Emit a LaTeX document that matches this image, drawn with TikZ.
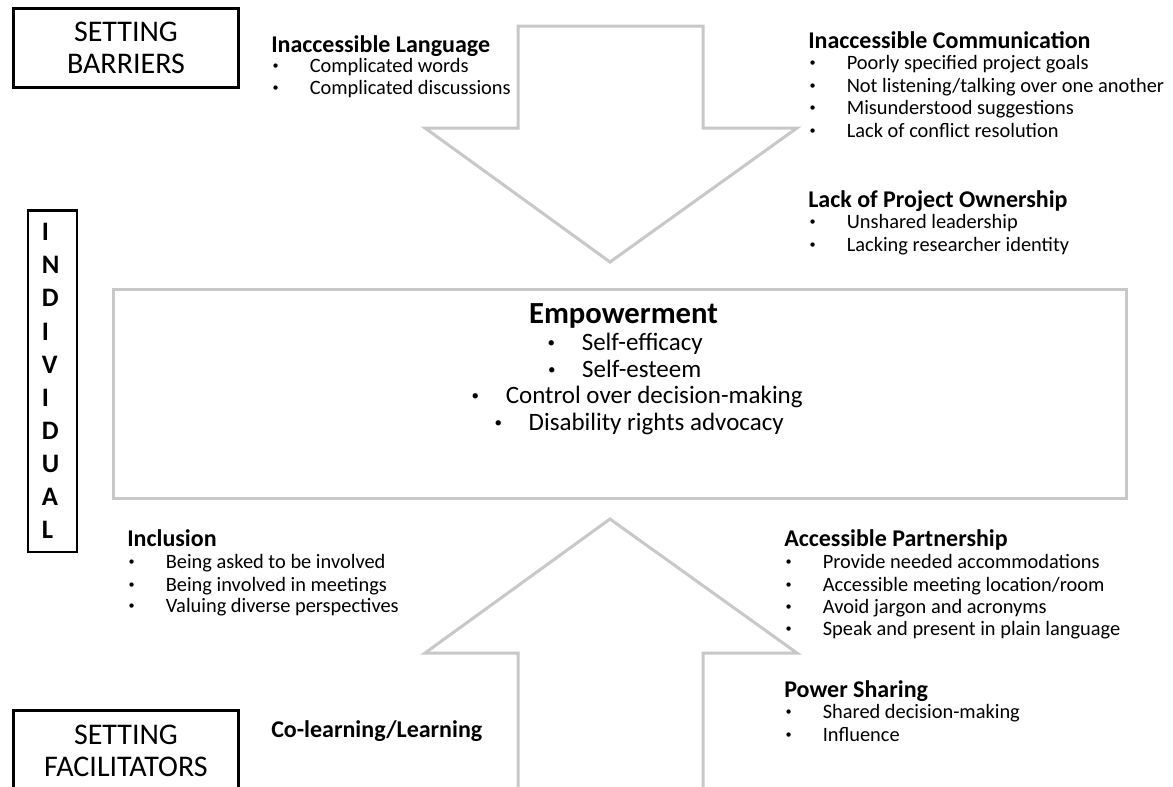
\documentclass[tikz,border=0pt]{standalone}
\usepackage{fontspec}
\setmainfont{Carlito}
\usetikzlibrary{positioning}
\definecolor{blockgray}{HTML}{C8C8C8}

\newcommand{\smallbullet}{\raisebox{0.1em}{\scalebox{0.6}{\textbullet}}}
\newcommand{\itm}[1]{\makebox[28.9pt][l]{\hspace{1pt}\smallbullet}#1}
\newcommand{\empitm}[1]{\makebox[26.6pt][l]{\hspace{1pt}\smallbullet}#1}

\begin{document}
\begin{tikzpicture}[x=0.75pt, y=-0.75pt,
    head/.style={anchor=base west, inner sep=0pt, font=\fontsize{18}{21}\selectfont\bfseries},
    item/.style={anchor=base west, inner sep=0pt, font=\fontsize{15.3}{18}\selectfont},
    settingbox/.style={draw, line width=2.25pt, minimum width=168.75pt, minimum height=59.25pt, inner sep=0pt, align=center, font=\fontsize{22.5}{24}\selectfont},
    block/.style={draw=blockgray, line width=2.25pt, fill=white},
    emline/.style={anchor=base, inner sep=0pt, font=\fontsize{18.75}{22}\selectfont}]

    \useasboundingbox (0,0) rectangle (1173,786);

    % Block arrows
    \draw[block] (518,26) -- (703,26) -- (703,128) -- (797,128) -- (610,262) -- (425,128) -- (518,128) -- cycle;
    \draw[block] (610,519) -- (797,653) -- (703,653) -- (703,800) -- (518,800) -- (518,653) -- (425,653) -- cycle;

    % Empowerment
    \node[block, minimum width=759.75pt, minimum height=156.75pt] (emp) at (620,394) {};
    \node[emline, font=\fontsize{23}{26}\selectfont\bfseries] (empt) at (623.5,323) {Empowerment};
    \foreach \x/\y/\t [count=\i] in {624.5/350/Self-efficacy, 624/377/Self-esteem, 636.5/403/Control over decision-making, 638.5/430/Disability rights advocacy}
        \node[emline] (emp\i) at (\x,\y) {\empitm{\t}};

    % Side labels
    \node[settingbox] (barriers) at (126,48) {SETTING\\BARRIERS};
    \node[settingbox, anchor=north, minimum height=61.5pt] (facil) at (126,708.5) {SETTING\\FACILITATORS};
    \node[draw, line width=1.75pt, minimum width=36.5pt, minimum height=256pt, inner sep=0pt, text width=16pt, align=left, font=\fontsize{20}{24.8}\selectfont\bfseries] (indiv) at (52.5,381) {I\\N\\D\\I\\V\\I\\D\\U\\A\\L};

    % Barriers
    \node[head] (lang) at (271,52) {Inaccessible Language};
    \foreach \y/\t [count=\i] in {72/Complicated words, 94/Complicated discussions}
        \node[item] (lang\i) at (271,\y) {\itm{\t}};

    \node[head] (comm) at (808,48) {Inaccessible Communication};
    \foreach \y/\t [count=\i] in {69/Poorly specified project goals, 92/{Not listening/talking over one another}, 114/Misunderstood suggestions, 137/Lack of conflict resolution}
        \node[item] (comm\i) at (808,\y) {\itm{\t}};

    \node[head] (own) at (808,207) {Lack of Project Ownership};
    \foreach \y/\t [count=\i] in {228/Unshared leadership, 251/Lacking researcher identity}
        \node[item] (own\i) at (808,\y) {\itm{\t}};

    % Facilitators
    \node[head] (incl) at (127,546) {Inclusion};
    \foreach \y/\t [count=\i] in {568/Being asked to be involved, 591/Being involved in meetings, 612/Valuing diverse perspectives}
        \node[item] (incl\i) at (127,\y) {\itm{\t}};

    \node[head] (colearn) at (271,737) {Co-learning/Learning};

    \node[head] (part) at (784,546) {Accessible Partnership};
    \foreach \y/\t [count=\i] in {568/Provide needed accommodations, 591/{Accessible meeting location/room}, 613/Avoid jargon and acronyms, 635/Speak and present in plain language}
        \node[item] (part\i) at (784,\y) {\itm{\t}};

    \node[head] (power) at (784,697) {Power Sharing};
    \foreach \y/\t [count=\i] in {718/Shared decision-making, 741/Influence}
        \node[item] (power\i) at (784,\y) {\itm{\t}};
\end{tikzpicture}
\end{document}
